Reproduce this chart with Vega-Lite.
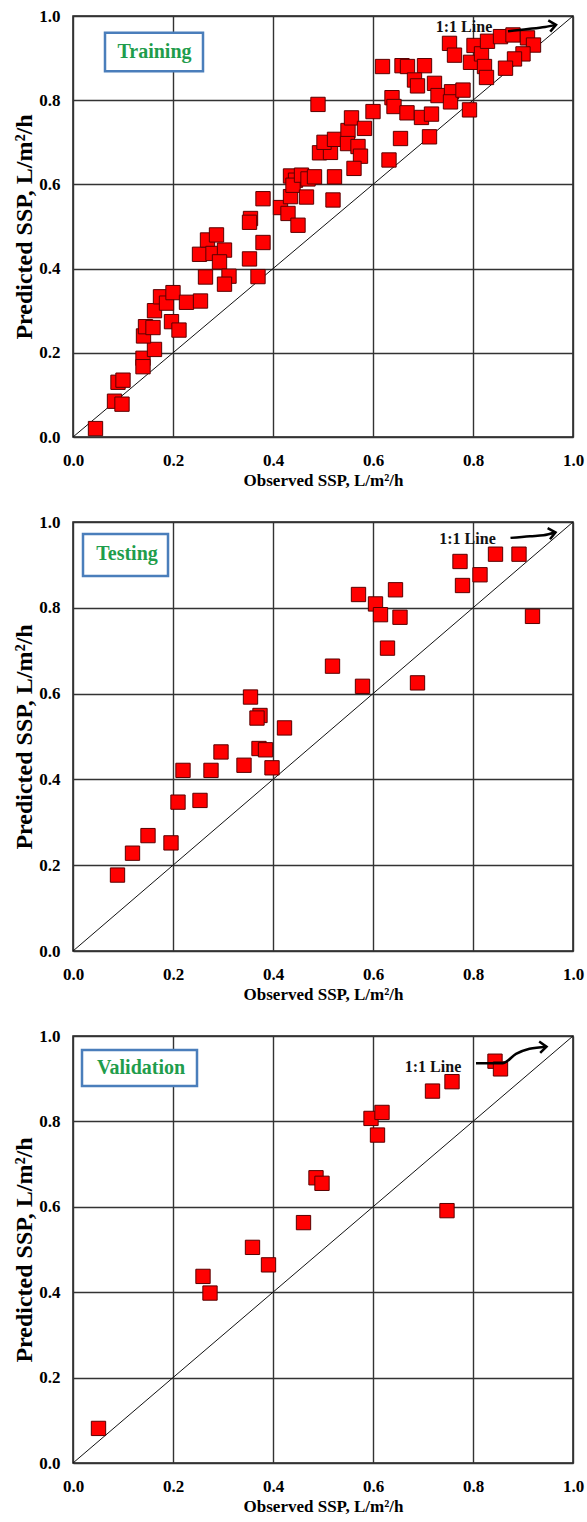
{
  "$schema": "https://vega.github.io/schema/vega-lite/v6.json",
  "padding": {"left": 12, "top": 6, "right": 5, "bottom": 5},
  "background": "white",
  "spacing": 23,
  "datasets": {
    "train": [
      {"observed":0.045,"predicted":0.02},{"observed":0.09,"predicted":0.13},{"observed":0.1,"predicted":0.135},{"observed":0.083,"predicted":0.085},{"observed":0.098,"predicted":0.078},{"observed":0.14,"predicted":0.187},{"observed":0.14,"predicted":0.167},{"observed":0.163,"predicted":0.208},{"observed":0.141,"predicted":0.24},{"observed":0.145,"predicted":0.262},{"observed":0.16,"predicted":0.26},{"observed":0.163,"predicted":0.3},{"observed":0.175,"predicted":0.333},{"observed":0.187,"predicted":0.318},{"observed":0.2,"predicted":0.343},{"observed":0.197,"predicted":0.274},{"observed":0.212,"predicted":0.254},{"observed":0.227,"predicted":0.32},{"observed":0.255,"predicted":0.323},{"observed":0.253,"predicted":0.434},{"observed":0.265,"predicted":0.38},{"observed":0.269,"predicted":0.468},{"observed":0.287,"predicted":0.48},{"observed":0.28,"predicted":0.436},{"observed":0.303,"predicted":0.444},{"observed":0.293,"predicted":0.416},{"observed":0.312,"predicted":0.382},{"observed":0.303,"predicted":0.363},{"observed":0.353,"predicted":0.423},{"observed":0.38,"predicted":0.462},{"observed":0.37,"predicted":0.381},
      {"observed":0.38,"predicted":0.566},{"observed":0.355,"predicted":0.519},{"observed":0.353,"predicted":0.51},{"observed":0.415,"predicted":0.545},{"observed":0.43,"predicted":0.531},{"observed":0.435,"predicted":0.571},{"observed":0.435,"predicted":0.62},{"observed":0.445,"predicted":0.61},{"observed":0.44,"predicted":0.598},{"observed":0.45,"predicted":0.503},
      {"observed":0.467,"predicted":0.57},{"observed":0.457,"predicted":0.622},{"observed":0.47,"predicted":0.613},{"observed":0.483,"predicted":0.618},{"observed":0.52,"predicted":0.563},{"observed":0.523,"predicted":0.618},{"observed":0.49,"predicted":0.79},{"observed":0.493,"predicted":0.675},{"observed":0.515,"predicted":0.676},{"observed":0.502,"predicted":0.7},{"observed":0.523,"predicted":0.707},{"observed":0.55,"predicted":0.728},{"observed":0.557,"predicted":0.758},{"observed":0.549,"predicted":0.697},{"observed":0.57,"predicted":0.69},{"observed":0.575,"predicted":0.667},{"observed":0.562,"predicted":0.638},{"observed":0.583,"predicted":0.733},{"observed":0.6,"predicted":0.773},{"observed":0.632,"predicted":0.658},{"observed":0.655,"predicted":0.709},{"observed":0.713,"predicted":0.713},{"observed":0.638,"predicted":0.806},{"observed":0.642,"predicted":0.785},{"observed":0.668,"predicted":0.77},{"observed":0.697,"predicted":0.759},{"observed":0.717,"predicted":0.767},{"observed":0.619,"predicted":0.88},{"observed":0.658,"predicted":0.882},{"observed":0.669,"predicted":0.88},{"observed":0.703,"predicted":0.882},{"observed":0.683,"predicted":0.848},{"observed":0.689,"predicted":0.834},{"observed":0.723,"predicted":0.84},{"observed":0.73,"predicted":0.811},{"observed":0.757,"predicted":0.82},{"observed":0.755,"predicted":0.796},{"observed":0.78,"predicted":0.824},{"observed":0.793,"predicted":0.777},{"observed":0.753,"predicted":0.935},{"observed":0.763,"predicted":0.907},{"observed":0.802,"predicted":0.93},{"observed":0.795,"predicted":0.89},{"observed":0.817,"predicted":0.91},{"observed":0.829,"predicted":0.94},{"observed":0.823,"predicted":0.88},{"observed":0.827,"predicted":0.854},{"observed":0.855,"predicted":0.951},{"observed":0.88,"predicted":0.955},{"observed":0.909,"predicted":0.948},{"observed":0.921,"predicted":0.931},{"observed":0.9,"predicted":0.91},{"observed":0.883,"predicted":0.898},{"observed":0.865,"predicted":0.876}
    ],
    "test": [
      {"observed":0.089,"predicted":0.177},{"observed":0.119,"predicted":0.228},{"observed":0.15,"predicted":0.269},{"observed":0.196,"predicted":0.252},{"observed":0.21,"predicted":0.347},{"observed":0.254,"predicted":0.351},{"observed":0.22,"predicted":0.421},{"observed":0.276,"predicted":0.421},{"observed":0.296,"predicted":0.464},{"observed":0.342,"predicted":0.433},{"observed":0.372,"predicted":0.472},{"observed":0.385,"predicted":0.469},{"observed":0.398,"predicted":0.427},{"observed":0.355,"predicted":0.592},{"observed":0.374,"predicted":0.549},{"observed":0.368,"predicted":0.543},{"observed":0.423,"predicted":0.52},{"observed":0.519,"predicted":0.664},{"observed":0.579,"predicted":0.617},{"observed":0.571,"predicted":0.831},{"observed":0.605,"predicted":0.809},{"observed":0.615,"predicted":0.784},{"observed":0.645,"predicted":0.842},{"observed":0.654,"predicted":0.778},{"observed":0.629,"predicted":0.706},{"observed":0.689,"predicted":0.625},{"observed":0.774,"predicted":0.908},{"observed":0.779,"predicted":0.852},{"observed":0.814,"predicted":0.877},{"observed":0.845,"predicted":0.925},{"observed":0.892,"predicted":0.925},{"observed":0.919,"predicted":0.78}
    ],
    "valid": [
      {"observed":0.051,"predicted":0.081},{"observed":0.26,"predicted":0.437},{"observed":0.274,"predicted":0.398},{"observed":0.359,"predicted":0.505},{"observed":0.391,"predicted":0.464},{"observed":0.461,"predicted":0.563},{"observed":0.486,"predicted":0.668},{"observed":0.498,"predicted":0.655},{"observed":0.596,"predicted":0.807},{"observed":0.609,"predicted":0.768},{"observed":0.618,"predicted":0.821},{"observed":0.719,"predicted":0.871},{"observed":0.758,"predicted":0.893},{"observed":0.748,"predicted":0.591},{"observed":0.844,"predicted":0.941},{"observed":0.855,"predicted":0.923}
    ]
  },
  "vconcat": [
    {
      "width": 500, "height": 421,
      "layer": [
        {"data": {"values": [{}]}, "mark": {"type": "rule", "color": "#111111", "strokeWidth": 1},
         "encoding": {"x": {"datum": 0, "type": "quantitative"}, "y": {"datum": 0, "type": "quantitative"}, "x2": {"datum": 1}, "y2": {"datum": 1}}},
        {"data": {"name": "train"},
         "mark": {"type": "point", "shape": "square", "filled": true, "size": 205, "fill": "#ff0000", "stroke": "#5a0000", "strokeWidth": 1, "opacity": 1},
         "encoding": {
           "x": {"field": "observed", "type": "quantitative", "title": "Observed SSP, L/m²/h", "scale": {"domain": [0, 1], "nice": false}, "axis": {"values": [0, 0.2, 0.4, 0.6, 0.8, 1], "format": ".1f"}},
           "y": {"field": "predicted", "type": "quantitative", "title": "Predicted SSP, L/m²/h", "scale": {"domain": [0, 1], "nice": false}, "axis": {"values": [0, 0.2, 0.4, 0.6, 0.8, 1], "format": ".1f"}}}},
        {"data": {"values": [{}]}, "mark": {"type": "rect", "fill": "#ffffff", "stroke": "#4a7ebb", "strokeWidth": 2.5},
         "encoding": {"x": {"datum": 0.064, "type": "quantitative"}, "x2": {"datum": 0.26}, "y": {"datum": 0.869, "type": "quantitative"}, "y2": {"datum": 0.96}}},
        {"data": {"values": [{}]}, "mark": {"type": "text", "text": "Training", "font": "Liberation Serif", "fontWeight": "bold", "fontSize": 20, "color": "#1f9d4c", "align": "center", "baseline": "middle"},
         "encoding": {"x": {"datum": 0.163, "type": "quantitative"}, "y": {"datum": 0.914, "type": "quantitative"}}},
        {"data": {"values": [{}]}, "mark": {"type": "text", "text": "1:1 Line", "font": "Liberation Serif", "fontWeight": "bold", "fontSize": 16, "color": "#111111", "align": "center", "baseline": "middle"},
         "encoding": {"x": {"datum": 0.782, "type": "quantitative"}, "y": {"datum": 0.974, "type": "quantitative"}}},
        {"data": {"values": [{"ax": 0.87, "ay": 0.964}, {"ax": 0.91, "ay": 0.969}, {"ax": 0.944, "ay": 0.974}, {"ax": 0.966, "ay": 0.979}]},
         "mark": {"type": "line", "interpolate": "monotone", "color": "#000000", "strokeWidth": 2.5},
         "encoding": {"x": {"field": "ax", "type": "quantitative", "title": "Observed SSP, L/m²/h"}, "y": {"field": "ay", "type": "quantitative", "title": "Predicted SSP, L/m²/h"}}},
        {"data": {"values": [{}]}, "mark": {"type": "point", "shape": "M-1.2,-1L0,0L-1.2,1", "filled": false, "size": 130, "stroke": "#000000", "strokeWidth": 2.5, "angle": -10, "opacity": 1},
         "encoding": {"x": {"datum": 0.966, "type": "quantitative"}, "y": {"datum": 0.979, "type": "quantitative"}}}
      ]
    },
    {
      "width": 500, "height": 429,
      "layer": [
        {"data": {"values": [{}]}, "mark": {"type": "rule", "color": "#111111", "strokeWidth": 1},
         "encoding": {"x": {"datum": 0, "type": "quantitative"}, "y": {"datum": 0, "type": "quantitative"}, "x2": {"datum": 1}, "y2": {"datum": 1}}},
        {"data": {"name": "test"},
         "mark": {"type": "point", "shape": "square", "filled": true, "size": 205, "fill": "#ff0000", "stroke": "#5a0000", "strokeWidth": 1, "opacity": 1},
         "encoding": {
           "x": {"field": "observed", "type": "quantitative", "title": "Observed SSP, L/m²/h", "scale": {"domain": [0, 1], "nice": false}, "axis": {"values": [0, 0.2, 0.4, 0.6, 0.8, 1], "format": ".1f"}},
           "y": {"field": "predicted", "type": "quantitative", "title": "Predicted SSP, L/m²/h", "scale": {"domain": [0, 1], "nice": false}, "axis": {"values": [0, 0.2, 0.4, 0.6, 0.8, 1], "format": ".1f"}}}},
        {"data": {"values": [{}]}, "mark": {"type": "rect", "fill": "#ffffff", "stroke": "#4a7ebb", "strokeWidth": 2.5},
         "encoding": {"x": {"datum": 0.02, "type": "quantitative"}, "x2": {"datum": 0.19}, "y": {"datum": 0.874, "type": "quantitative"}, "y2": {"datum": 0.972}}},
        {"data": {"values": [{}]}, "mark": {"type": "text", "text": "Testing", "font": "Liberation Serif", "fontWeight": "bold", "fontSize": 20, "color": "#1f9d4c", "align": "center", "baseline": "middle"},
         "encoding": {"x": {"datum": 0.108, "type": "quantitative"}, "y": {"datum": 0.925, "type": "quantitative"}}},
        {"data": {"values": [{}]}, "mark": {"type": "text", "text": "1:1 Line", "font": "Liberation Serif", "fontWeight": "bold", "fontSize": 16, "color": "#111111", "align": "center", "baseline": "middle"},
         "encoding": {"x": {"datum": 0.789, "type": "quantitative"}, "y": {"datum": 0.96, "type": "quantitative"}}},
        {"data": {"values": [{"ax": 0.875, "ay": 0.963}, {"ax": 0.914, "ay": 0.967}, {"ax": 0.941, "ay": 0.969}, {"ax": 0.965, "ay": 0.976}]},
         "mark": {"type": "line", "interpolate": "monotone", "color": "#000000", "strokeWidth": 2.5},
         "encoding": {"x": {"field": "ax", "type": "quantitative", "title": "Observed SSP, L/m²/h"}, "y": {"field": "ay", "type": "quantitative", "title": "Predicted SSP, L/m²/h"}}},
        {"data": {"values": [{}]}, "mark": {"type": "point", "shape": "M-1.2,-1L0,0L-1.2,1", "filled": false, "size": 130, "stroke": "#000000", "strokeWidth": 2.5, "angle": -12, "opacity": 1},
         "encoding": {"x": {"datum": 0.965, "type": "quantitative"}, "y": {"datum": 0.976, "type": "quantitative"}}}
      ]
    },
    {
      "width": 500, "height": 427,
      "layer": [
        {"data": {"values": [{}]}, "mark": {"type": "rule", "color": "#111111", "strokeWidth": 1},
         "encoding": {"x": {"datum": 0, "type": "quantitative"}, "y": {"datum": 0, "type": "quantitative"}, "x2": {"datum": 1}, "y2": {"datum": 1}}},
        {"data": {"name": "valid"},
         "mark": {"type": "point", "shape": "square", "filled": true, "size": 205, "fill": "#ff0000", "stroke": "#5a0000", "strokeWidth": 1, "opacity": 1},
         "encoding": {
           "x": {"field": "observed", "type": "quantitative", "title": "Observed SSP, L/m²/h", "scale": {"domain": [0, 1], "nice": false}, "axis": {"values": [0, 0.2, 0.4, 0.6, 0.8, 1], "format": ".1f"}},
           "y": {"field": "predicted", "type": "quantitative", "title": "Predicted SSP, L/m²/h", "scale": {"domain": [0, 1], "nice": false}, "axis": {"values": [0, 0.2, 0.4, 0.6, 0.8, 1], "format": ".1f"}}}},
        {"data": {"values": [{}]}, "mark": {"type": "rect", "fill": "#ffffff", "stroke": "#4a7ebb", "strokeWidth": 2.5},
         "encoding": {"x": {"datum": 0.018, "type": "quantitative"}, "x2": {"datum": 0.248}, "y": {"datum": 0.883, "type": "quantitative"}, "y2": {"datum": 0.967}}},
        {"data": {"values": [{}]}, "mark": {"type": "text", "text": "Validation", "font": "Liberation Serif", "fontWeight": "bold", "fontSize": 20, "color": "#1f9d4c", "align": "center", "baseline": "middle"},
         "encoding": {"x": {"datum": 0.136, "type": "quantitative"}, "y": {"datum": 0.925, "type": "quantitative"}}},
        {"data": {"values": [{}]}, "mark": {"type": "text", "text": "1:1 Line", "font": "Liberation Serif", "fontWeight": "bold", "fontSize": 16, "color": "#111111", "align": "center", "baseline": "middle"},
         "encoding": {"x": {"datum": 0.72, "type": "quantitative"}, "y": {"datum": 0.927, "type": "quantitative"}}},
        {"data": {"values": [{"ax": 0.806, "ay": 0.936}, {"ax": 0.859, "ay": 0.936}, {"ax": 0.886, "ay": 0.958}, {"ax": 0.913, "ay": 0.97}, {"ax": 0.947, "ay": 0.975}]},
         "mark": {"type": "line", "interpolate": "monotone", "color": "#000000", "strokeWidth": 2.5},
         "encoding": {"x": {"field": "ax", "type": "quantitative", "title": "Observed SSP, L/m²/h"}, "y": {"field": "ay", "type": "quantitative", "title": "Predicted SSP, L/m²/h"}}},
        {"data": {"values": [{}]}, "mark": {"type": "point", "shape": "M-1.2,-1L0,0L-1.2,1", "filled": false, "size": 130, "stroke": "#000000", "strokeWidth": 2.5, "angle": -5, "opacity": 1},
         "encoding": {"x": {"datum": 0.947, "type": "quantitative"}, "y": {"datum": 0.975, "type": "quantitative"}}}
      ]
    }
  ],
  "config": {
    "view": {"stroke": "#1a1a1a", "strokeWidth": 1.5},
    "axis": {
      "grid": true, "gridColor": "#333333", "gridWidth": 1.4, "gridOpacity": 1,
      "domain": false, "ticks": false,
      "labelFont": "Liberation Serif", "labelFontWeight": "bold", "labelFontSize": 17, "labelColor": "#000000",
      "titleFont": "Liberation Serif", "titleFontWeight": "bold", "titleColor": "#000000",
      "labelFlush": false, "labelOverlap": false
    },
    "axisX": {"labelPadding": 15, "titlePadding": 4, "titleFontSize": 17},
    "axisY": {"labelPadding": 13, "titlePadding": 2, "titleFontSize": 24}
  }
}
